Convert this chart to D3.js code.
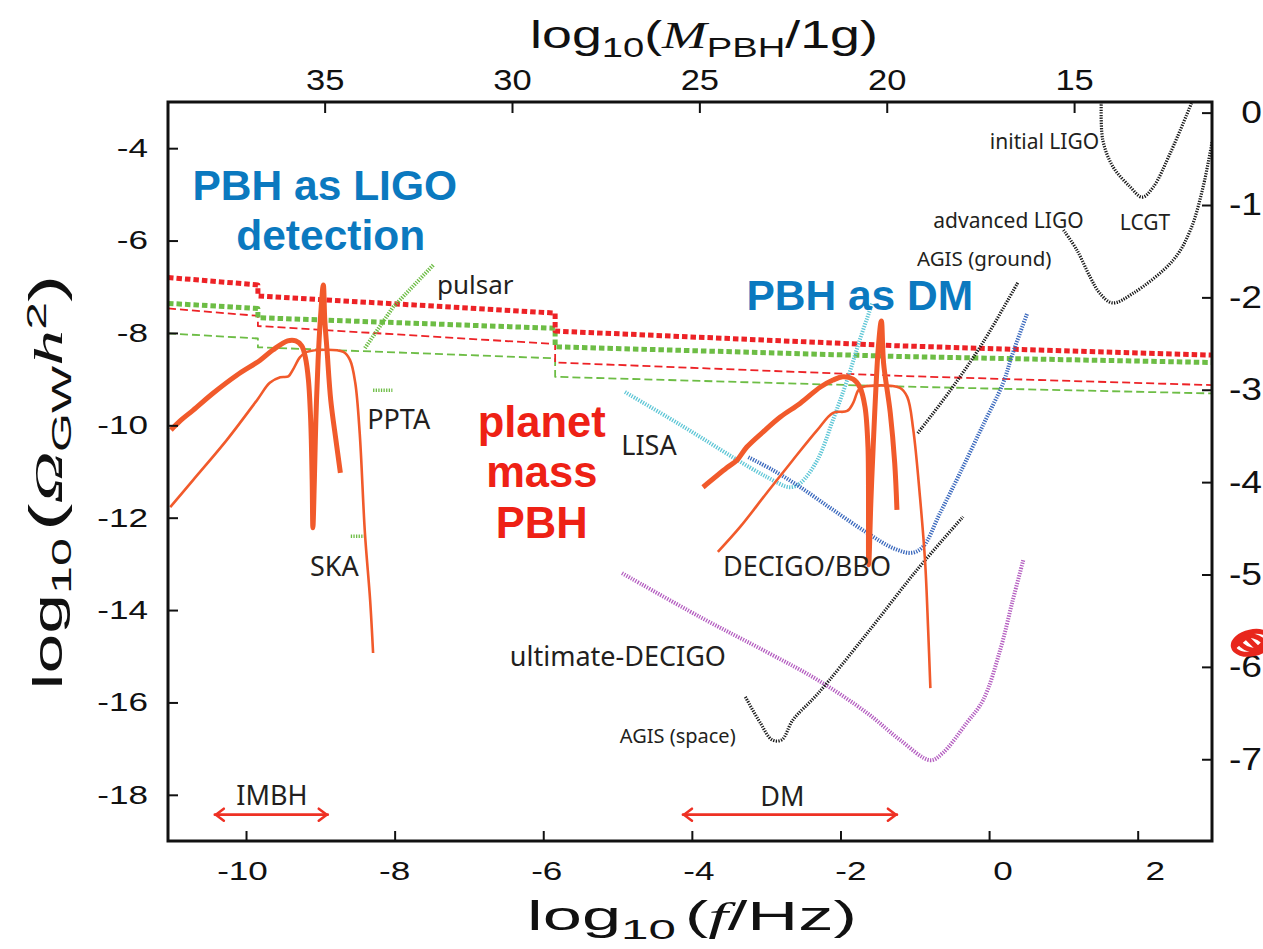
<!DOCTYPE html>
<html><head><meta charset="utf-8">
<script src="https://cdn.jsdelivr.net/npm/d3@7"></script>
<style>
body{margin:0;background:#fff;}
svg{display:block;}
</style></head><body>
<svg id="chart" width="1263" height="949"></svg>
<script>
// ---- axes ----
const xTicks = [-10, -8, -6, -4, -2, 0, 2];                // log10(f/Hz)
const yTicks = [-4, -6, -8, -10, -12, -14, -16, -18];      // log10(Omega_GW h^2)
const massTicks = [35, 30, 25, 20, 15];                    // log10(M_PBH/1g)
const rightTicks = [0, -1, -2, -3, -4, -5, -6, -7];

// ---- upper bounds: [log10 f, log10 Omega h^2] ----
const boundRedThick   = [[-11.05,-6.80],[-9.84,-6.96],[-9.84,-7.20],[-5.84,-7.57],[-5.84,-7.96],[-1.20,-8.28],[3.0,-8.48]];
const boundGreenThick = [[-11.05,-7.36],[-9.84,-7.47],[-9.84,-7.67],[-5.84,-7.90],[-5.84,-8.30],[-1.20,-8.51],[3.0,-8.64]];
const boundRedThin    = [[-11.05,-7.47],[-9.84,-7.63],[-9.84,-7.85],[-5.84,-8.24],[-5.84,-8.64],[-1.20,-8.93],[3.0,-9.13]];
const boundGreenThin  = [[-11.05,-8.01],[-9.84,-8.12],[-9.84,-8.31],[-5.84,-8.55],[-5.84,-8.95],[-1.20,-9.16],[3.0,-9.31]];

// ---- PBH-induced spectra ----
const imbhThick = [[-11.01,-10.10],[-10.89,-9.91],[-10.71,-9.67],[-10.44,-9.30],[-10.12,-8.91],[-9.81,-8.59],[-9.64,-8.37],
  [-9.44,-8.17],[-9.33,-8.17],[-9.25,-8.28],[-9.20,-8.54],[-9.16,-9.02],[-9.13,-9.88],[-9.11,-11.18],[-9.10,-12.22],
  [-9.08,-11.18],[-9.06,-9.88],[-9.03,-8.59],[-9.00,-7.72],[-8.96,-6.96],[-8.94,-7.72],[-8.91,-8.37],[-8.86,-9.45],
  [-8.79,-10.32],[-8.73,-11.03]];
const imbhThin = [[-11.02,-11.77],[-10.71,-11.18],[-10.26,-10.32],[-9.85,-9.45],[-9.68,-9.08],[-9.54,-8.96],[-9.43,-8.94],
  [-9.37,-8.80],[-9.27,-8.52],[-9.18,-8.41],[-8.69,-8.41],[-8.60,-8.59],[-8.53,-9.08],[-8.47,-10.17],[-8.40,-12.33],
  [-8.33,-13.78],[-8.29,-14.93]];
const dmThick = [[-3.85,-11.34],[-3.53,-10.92],[-3.39,-10.75],[-3.26,-10.47],[-3.04,-10.14],[-2.81,-9.82],[-2.54,-9.52],
  [-2.27,-9.17],[-2.10,-9.02],[-1.97,-8.95],[-1.83,-9.00],[-1.74,-9.17],[-1.67,-9.60],[-1.63,-10.47],[-1.62,-13.02],
  [-1.59,-11.62],[-1.56,-10.47],[-1.49,-8.30],[-1.45,-7.74],[-1.42,-8.65],[-1.33,-9.73],[-1.27,-10.82],[-1.24,-11.83]];
const dmThin = [[-3.65,-12.74],[-3.35,-12.20],[-2.99,-11.46],[-2.64,-10.75],[-2.31,-10.10],[-2.10,-9.73],[-1.91,-9.69],
  [-1.83,-9.52],[-1.76,-9.24],[-1.70,-9.17],[-1.20,-9.19],[-1.10,-9.39],[-1.02,-10.10],[-0.93,-11.55],[-0.86,-12.98],
  [-0.82,-14.43],[-0.79,-15.69]];

// ---- detector sensitivities ----
const lisa = [[-4.90,-9.28],[-4.33,-9.82],[-3.89,-10.25],[-3.45,-10.69],[-2.99,-11.12],[-2.68,-11.34],[-2.54,-11.25],
  [-2.31,-10.75],[-2.10,-9.88],[-1.91,-9.02],[-1.74,-8.15],[-1.57,-7.35]];
const decigo = [[-3.24,-10.69],[-2.91,-10.97],[-2.54,-11.34],[-2.10,-11.83],[-1.64,-12.33],[-1.29,-12.66],[-1.04,-12.76],
  [-0.89,-12.63],[-0.66,-11.90],[-0.39,-11.03],[-0.08,-9.99],[0.19,-9.08],[0.31,-8.48],[0.51,-7.59]];
const ultDecigo = [[-4.94,-13.20],[-3.89,-14.15],[-2.99,-14.91],[-2.31,-15.51],[-1.64,-16.23],[-1.20,-16.81],[-0.79,-17.25],
  [-0.62,-17.09],[-0.30,-16.44],[-0.08,-15.95],[0.15,-14.86],[0.32,-13.78],[0.46,-12.92]];
const agisSpace = [[-3.28,-15.88],[-3.08,-16.44],[-2.92,-16.81],[-2.79,-16.81],[-2.64,-16.38],[-2.31,-15.82],[-1.64,-14.50],
  [-0.97,-13.13],[-0.35,-11.98]];
const agisGround = [[-0.96,-10.17],[-0.52,-9.24],[-0.08,-8.20],[0.39,-6.90]];
const advLigo = [[1.00,-5.77],[1.18,-6.20],[1.36,-6.79],[1.49,-7.14],[1.66,-7.35],[1.94,-7.14],[2.48,-6.42],[2.71,-5.77],
  [2.88,-4.84],[3.00,-3.87]];
const initLigo = [[1.51,-3.00],[1.53,-3.82],[1.67,-4.41],[1.90,-4.84],[2.06,-5.06],[2.21,-4.84],[2.44,-4.10],[2.73,-3.00]];
const pulsar = [[-8.40,-8.33],[-8.02,-7.44],[-7.48,-6.53]];
const ppta = [[-8.29,-9.24],[-8.03,-9.24]];
const ska = [[-8.59,-12.40],[-8.40,-12.40]];

// ---- mass windows ----
const imbhRange = [-10.42, -8.90];
const dmRange = [-4.12, -1.24];
const rangeLevel = -18.43;

// ---------------------------------------------------------------
const W = 1263, H = 949;
const M = {left: 168, right: 1212, top: 102, bottom: 841};
const svg = d3.select('#chart');
svg.append('rect').attr('width', W).attr('height', H).attr('fill', '#fff');

const x = d3.scaleLinear().domain([-11.05, 3.0]).range([M.left, M.right]);
const y = d3.scaleLinear().domain([-19, -3]).range([M.bottom, M.top]);
const yR = d3.scaleLinear().domain([-7.885, 0.115]).range([M.bottom, M.top]);
const xMass = d3.scaleLinear().domain([39.18, 11.32]).range([M.left, M.right]);
// the printed frequency labels sit slightly off their ticks
const xLab = d3.scaleLinear().domain([-10, 2]).range([x(-10) - 4, x(2) + 17]);

const numFont = 'Liberation Sans, Arial, Helvetica, sans-serif';
const labFont = 'Noto Sans, Open Sans, sans-serif';
const ink = '#231f20';

function stretchX(sel, s, anchor) {
  sel.each(function () {
    const b = this.getBBox();
    const cx = anchor === 'end' ? b.x + b.width : b.x + b.width / 2;
    d3.select(this).attr('transform', `translate(${cx},0) scale(${s},1) translate(${-cx},0)`);
  });
}
function fitWidth(sel, target) {
  const b = sel.node().getBBox();
  const cx = b.x + b.width / 2;
  sel.attr('transform', `translate(${cx},0) scale(${target / b.width},1) translate(${-cx},0)`);
}

svg.append('clipPath').attr('id', 'plot').append('rect')
  .attr('x', M.left).attr('y', M.top).attr('width', M.right - M.left).attr('height', M.bottom - M.top);
const plot = svg.append('g').attr('clip-path', 'url(#plot)');

const straight = d3.line().x(d => x(d[0])).y(d => y(d[1]));
const smooth = d3.line().x(d => x(d[0])).y(d => y(d[1])).curve(d3.curveCatmullRom.alpha(0.5));

function draw(data, gen, stroke, width, dash) {
  plot.append('path').datum(data).attr('d', gen).attr('fill', 'none')
    .attr('stroke', stroke).attr('stroke-width', width)
    .attr('stroke-dasharray', dash || null).attr('stroke-linejoin', 'round');
}

const RED = '#ed2226', GREEN = '#6dbd45', ORANGE = '#f15a2b';

// bounds
draw(boundGreenThin, straight, GREEN, 1.8, '8,4');
draw(boundRedThin, straight, RED, 1.8, '8,4');
draw(boundGreenThick, straight, GREEN, 5, '5.5,3');
draw(boundRedThick, straight, RED, 5, '5.5,3');

// sensitivities
const dot = '1.3,1.3';
draw(pulsar, straight, GREEN, 4, dot);
draw(ppta, straight, GREEN, 3.5, dot);
draw(ska, straight, GREEN, 3.5, dot);
draw(lisa, smooth, '#5ec6d6', 4, dot);
draw(decigo, smooth, '#3b69bd', 4, dot);
draw(ultDecigo, smooth, '#b45ec0', 4, dot);
draw(agisSpace, smooth, '#1a1a1a', 3.2, dot);
draw(agisGround, smooth, '#1a1a1a', 3.2, dot);
draw(advLigo, smooth, '#1a1a1a', 3.2, dot);
draw(initLigo, smooth, '#1a1a1a', 3.2, dot);

// spectra
draw(imbhThin, smooth, ORANGE, 2.6);
draw(dmThin, smooth, ORANGE, 2.6);
draw(imbhThick, smooth, ORANGE, 5);
draw(dmThick, smooth, ORANGE, 5);

// mass windows (double arrows)
const ARROW = '#ee3124';
[imbhRange, dmRange].forEach(r => {
  const x0 = x(r[0]), x1 = x(r[1]), yy = y(rangeLevel);
  const g = svg.append('g').attr('fill', 'none').attr('stroke', ARROW).attr('stroke-width', 2.6)
    .attr('stroke-linecap', 'round').attr('stroke-linejoin', 'round');
  g.append('line').attr('x1', x0).attr('x2', x1).attr('y1', yy).attr('y2', yy);
  g.append('path').attr('d', `M${x0 + 9},${yy - 6}L${x0 + 1},${yy}L${x0 + 9},${yy + 6}`);
  g.append('path').attr('d', `M${x1 - 9},${yy - 6}L${x1 - 1},${yy}L${x1 - 9},${yy + 6}`);
});

// ---- frame and axes ----
svg.append('rect').attr('x', M.left).attr('y', M.top).attr('width', M.right - M.left)
  .attr('height', M.bottom - M.top).attr('fill', 'none').attr('stroke', '#111').attr('stroke-width', 3);

function styleAxis(g, size) {
  g.attr('font-family', numFont).attr('font-size', size);
  g.select('.domain').remove();
  g.selectAll('.tick line').attr('stroke', '#111').attr('stroke-width', 2);
  g.selectAll('.tick text').attr('fill', '#111');
}
const fmt = d => String(d);

const gB = svg.append('g').attr('transform', `translate(0,${M.bottom})`)
  .call(d3.axisBottom(x).tickValues(xTicks).tickSize(-10).tickPadding(21).tickFormat(fmt));
styleAxis(gB, 26);
gB.selectAll('.tick text').attr('x', d => xLab(d) - x(d))
  .attr('transform', d => { const c = xLab(d) - x(d); return `translate(${c},0) scale(1.35,1) translate(${-c},0)`; });

const gL = svg.append('g').attr('transform', `translate(${M.left},0)`)
  .call(d3.axisLeft(y).tickValues(yTicks).tickSize(-10).tickPadding(20).tickFormat(fmt));
styleAxis(gL, 26);
stretchX(gL.selectAll('.tick text'), 1.35, 'end');

const gT = svg.append('g').attr('transform', `translate(0,${M.top})`)
  .call(d3.axisTop(xMass).tickValues(massTicks).tickSize(-11).tickPadding(12).tickFormat(fmt));
styleAxis(gT, 30);
stretchX(gT.selectAll('.tick text'), 1.15);

const gR = svg.append('g').attr('transform', `translate(${M.right},0)`)
  .call(d3.axisRight(yR).tickValues(rightTicks).tickSize(-10).tickPadding(50).tickFormat(fmt));
styleAxis(gR, 31);
gR.selectAll('.tick text').attr('text-anchor', 'end');
stretchX(gR.selectAll('.tick text'), 1.2, 'end');

// axis titles
const bt = svg.append('text').attr('x', 692).attr('y', 930).attr('text-anchor', 'middle')
  .attr('font-family', numFont).attr('font-size', 40).attr('fill', '#111');
bt.append('tspan').text('log');
bt.append('tspan').attr('font-size', 28).attr('dy', 9).text('10');
bt.append('tspan').attr('dy', -9).attr('dx', 5).text('(');
bt.append('tspan').attr('font-family', 'Liberation Serif, serif').attr('font-style', 'italic').text('f');
bt.append('tspan').text('/Hz)');
fitWidth(bt, 330);

const tt = svg.append('text').attr('x', 704).attr('y', 48).attr('text-anchor', 'middle')
  .attr('font-family', numFont).attr('font-size', 38).attr('fill', '#111');
tt.append('tspan').text('log');
tt.append('tspan').attr('font-size', 27).attr('dy', 9).text('10');
tt.append('tspan').attr('dy', -9).text('(');
tt.append('tspan').attr('font-family', 'Liberation Serif, serif').attr('font-style', 'italic').text('M');
tt.append('tspan').attr('font-size', 27).attr('dy', 9).text('PBH');
tt.append('tspan').attr('dy', -9).text('/1g)');
fitWidth(tt, 348);

const lg = svg.append('g').attr('transform', 'translate(62,482) rotate(-90)');
const lt = lg.append('text').attr('x', 0).attr('y', 0).attr('text-anchor', 'middle')
  .attr('font-family', numFont).attr('font-size', 40).attr('fill', '#111');
lt.append('tspan').text('log');
lt.append('tspan').attr('font-size', 28).attr('dy', 9).text('10');
lt.append('tspan').attr('dy', -9).attr('dx', 4).attr('font-size', 46).text('(');
lt.append('tspan').attr('font-family', 'Liberation Serif, serif').attr('font-style', 'italic').text('Ω');
lt.append('tspan').attr('font-size', 28).attr('dy', 9).text('GW');
lt.append('tspan').attr('dy', -9).attr('font-family', 'Liberation Serif, serif').attr('font-style', 'italic').text('h');
lt.append('tspan').attr('font-size', 28).attr('dy', -16).text('2');
lt.append('tspan').attr('dy', 16).attr('font-size', 46).text(')');
fitWidth(lt, 415);

// ---- annotations ----
function note(t, fx, fy, size) {
  svg.append('text').attr('x', x(fx)).attr('y', y(fy)).attr('font-family', labFont)
    .attr('font-size', size).attr('fill', ink).text(t);
}
note('pulsar', -7.43, -7.16, 26);
note('PPTA', -8.37, -10.08, 27);
note('SKA', -9.14, -13.26, 27);
note('LISA', -4.95, -10.64, 27);
note('DECIGO/BBO', -3.58, -13.26, 27);
note('ultimate-DECIGO', -6.45, -15.21, 27);
note('AGIS (space)', -4.97, -16.88, 20);
note('IMBH', -10.13, -18.22, 27);
note('DM', -3.08, -18.24, 27);
note('initial LIGO', 0.01, -4.02, 21);
note('advanced LIGO', -0.75, -5.73, 21);
note('LCGT', 1.76, -5.77, 21);
note('AGIS (ground)', -0.97, -6.56, 20.5);

function big(t, fx, fy, color, size) {
  svg.append('text').attr('x', x(fx)).attr('y', y(fy)).attr('text-anchor', 'middle')
    .attr('font-family', 'Liberation Sans, Arial, sans-serif').attr('font-weight', 'bold')
    .attr('font-size', size).attr('fill', color).text(t);
}
const BLUE = '#0b79bf', RED_TXT = '#ee2115';
big('PBH as LIGO', -8.94, -5.12, BLUE, 42.5);
big('detection', -8.86, -6.20, BLUE, 42.5);
big('PBH as DM', -1.74, -7.50, BLUE, 42.5);
big('planet', -6.02, -10.25, RED_TXT, 43.5);
big('mass', -6.02, -11.34, RED_TXT, 43.5);
big('PBH', -6.02, -12.44, RED_TXT, 43.5);

// red seal mark beside the right axis
const seal = svg.append('g').attr('fill', 'none').attr('stroke', '#e8261c').attr('stroke-width', 5)
  .attr('stroke-linejoin', 'round')
  .attr('transform', `translate(${M.right + 40},${y(-14.71)})`);
seal.append('ellipse').attr('rx', 19).attr('ry', 11).attr('transform', 'rotate(-12)');
seal.append('ellipse').attr('rx', 13).attr('ry', 7).attr('transform', 'rotate(15)');
seal.append('path').attr('d', 'M-18,4 L-6,-6 L6,6 L16,-4');
</script>
</body></html>
